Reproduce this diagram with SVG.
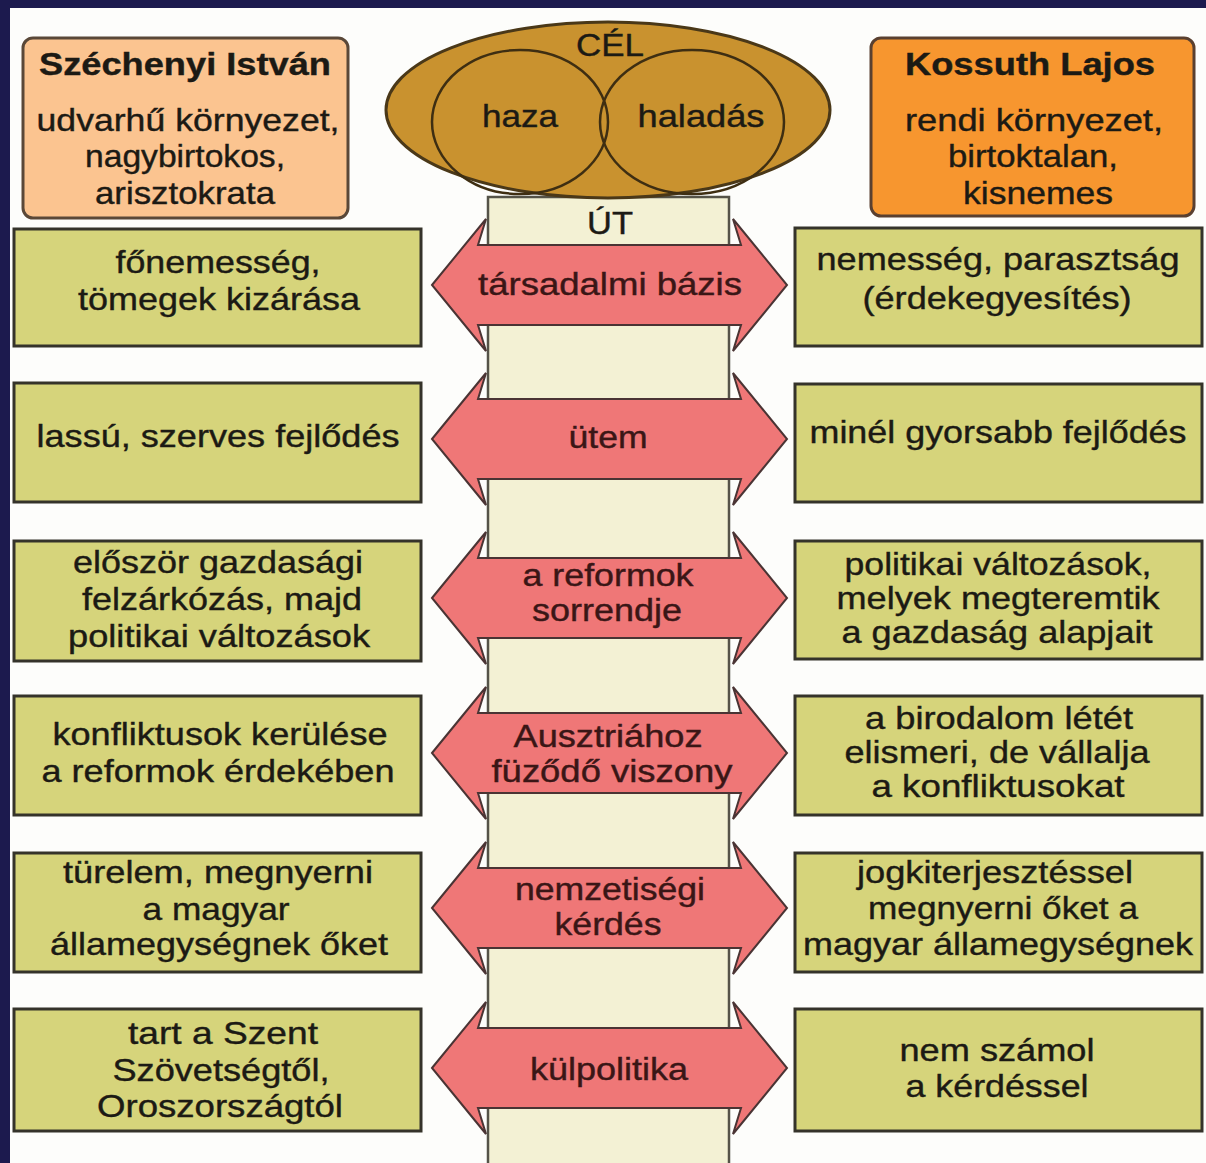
<svg xmlns="http://www.w3.org/2000/svg" width="1206" height="1163" viewBox="0 0 1206 1163">
<style>
text{font-family:"Liberation Sans",Arial,sans-serif;fill:#1c1a14;text-anchor:middle;stroke:#1c1a14;stroke-width:0.4;}
.t{font-size:32px;}
.b{font-size:32px;font-weight:bold;}
.a{font-size:31px;fill:#3a1616;stroke:#3a1616;}
.box{fill:#d6d47b;stroke:#35332a;stroke-width:3;}
.arr{fill:#ef7777;stroke:#4a3434;stroke-width:2;stroke-linejoin:miter;}
</style>
<rect x="0" y="0" width="1206" height="1163" fill="#fdfdfb"/>
<rect x="0" y="0" width="1206" height="8" fill="#1c1a4e"/>
<rect x="0" y="0" width="10" height="1163" fill="#1c1a4e"/>

<g id="szechenyi">
<rect x="23" y="38" width="325" height="180" rx="10" fill="#fbc490" stroke="#5a4838" stroke-width="3"/>
<text class="b" x="185" y="75" textLength="292" lengthAdjust="spacingAndGlyphs">Széchenyi István</text>
<text class="t" x="188" y="131" textLength="303" lengthAdjust="spacingAndGlyphs">udvarhű környezet,</text>
<text class="t" x="185" y="167" textLength="200" lengthAdjust="spacingAndGlyphs">nagybirtokos,</text>
<text class="t" x="185" y="204" textLength="180" lengthAdjust="spacingAndGlyphs">arisztokrata</text>
</g>

<g id="kossuth">
<rect x="871" y="38" width="323" height="178" rx="10" fill="#f7962f" stroke="#5a4030" stroke-width="3"/>
<text class="b" x="1030" y="75" textLength="250" lengthAdjust="spacingAndGlyphs">Kossuth Lajos</text>
<text class="t" x="1034" y="131" textLength="258" lengthAdjust="spacingAndGlyphs">rendi környezet,</text>
<text class="t" x="1033" y="167" textLength="170" lengthAdjust="spacingAndGlyphs">birtoktalan,</text>
<text class="t" x="1038" y="204" textLength="150" lengthAdjust="spacingAndGlyphs">kisnemes</text>
</g>

<g id="ut">
<rect x="488" y="197" width="241" height="970" fill="#f3f1d4" stroke="#555348" stroke-width="2.5"/>
<text class="t" x="610" y="234" textLength="46" lengthAdjust="spacingAndGlyphs">ÚT</text>
</g>

<g id="cel">
<ellipse cx="608" cy="110" rx="222" ry="88" fill="#c9922f" stroke="#4a3818" stroke-width="3"/>
<ellipse cx="520" cy="122" rx="88" ry="72" fill="none" stroke="#3e2e12" stroke-width="2.5"/>
<ellipse cx="692" cy="122" rx="92" ry="72" fill="none" stroke="#3e2e12" stroke-width="2.5"/>
<text class="t" x="610" y="56" textLength="68" lengthAdjust="spacingAndGlyphs">CÉL</text>
<text class="t" x="520" y="127" textLength="76" lengthAdjust="spacingAndGlyphs">haza</text>
<text class="t" x="701" y="127" textLength="127" lengthAdjust="spacingAndGlyphs">haladás</text>
</g>

<g id="connectors">
<path class="arr" d="M432,285 L486,219 L478,245 L741,245 L733,219 L787,285 L733,351 L741,325 L478,325 L486,351 Z"/>
<path class="arr" d="M432,439 L486,373 L478,399 L741,399 L733,373 L787,439 L733,505 L741,479 L478,479 L486,505 Z"/>
<path class="arr" d="M432,598 L486,532 L478,558 L741,558 L733,532 L787,598 L733,664 L741,638 L478,638 L486,664 Z"/>
<path class="arr" d="M432,753 L486,687 L478,713 L741,713 L733,687 L787,753 L733,819 L741,793 L478,793 L486,819 Z"/>
<path class="arr" d="M432,908 L486,842 L478,868 L741,868 L733,842 L787,908 L733,974 L741,948 L478,948 L486,974 Z"/>
<path class="arr" d="M432,1068 L486,1002 L478,1028 L741,1028 L733,1002 L787,1068 L733,1134 L741,1108 L478,1108 L486,1134 Z"/>
</g>

<g id="arrow-labels">
<text class="a" x="610" y="295" textLength="264" lengthAdjust="spacingAndGlyphs">társadalmi bázis</text>
<text class="a" x="608" y="448" textLength="79" lengthAdjust="spacingAndGlyphs">ütem</text>
<text class="a" x="608" y="586" textLength="171" lengthAdjust="spacingAndGlyphs">a reformok</text>
<text class="a" x="607" y="621" textLength="150" lengthAdjust="spacingAndGlyphs">sorrendje</text>
<text class="a" x="608" y="747" textLength="189" lengthAdjust="spacingAndGlyphs">Ausztriához</text>
<text class="a" x="612" y="782" textLength="241" lengthAdjust="spacingAndGlyphs">füződő viszony</text>
<text class="a" x="610" y="900" textLength="190" lengthAdjust="spacingAndGlyphs">nemzetiségi</text>
<text class="a" x="608" y="935" textLength="107" lengthAdjust="spacingAndGlyphs">kérdés</text>
<text class="a" x="609" y="1080" textLength="158" lengthAdjust="spacingAndGlyphs">külpolitika</text>
</g>

<g id="left-1">
<rect class="box" x="14" y="229" width="407" height="117"/>
<text class="t" x="218" y="273" textLength="205" lengthAdjust="spacingAndGlyphs">főnemesség,</text>
<text class="t" x="219" y="310" textLength="282" lengthAdjust="spacingAndGlyphs">tömegek kizárása</text>
</g>
<g id="left-2">
<rect class="box" x="14" y="383" width="407" height="119"/>
<text class="t" x="218" y="447" textLength="363" lengthAdjust="spacingAndGlyphs">lassú, szerves fejlődés</text>
</g>
<g id="left-3">
<rect class="box" x="14" y="541" width="407" height="120"/>
<text class="t" x="218" y="573" textLength="290" lengthAdjust="spacingAndGlyphs">először gazdasági</text>
<text class="t" x="222" y="610" textLength="280" lengthAdjust="spacingAndGlyphs">felzárkózás, majd</text>
<text class="t" x="219" y="647" textLength="302" lengthAdjust="spacingAndGlyphs">politikai változások</text>
</g>
<g id="left-4">
<rect class="box" x="14" y="696" width="407" height="119"/>
<text class="t" x="220" y="745" textLength="335" lengthAdjust="spacingAndGlyphs">konfliktusok kerülése</text>
<text class="t" x="218" y="782" textLength="353" lengthAdjust="spacingAndGlyphs">a reformok érdekében</text>
</g>
<g id="left-5">
<rect class="box" x="14" y="853" width="407" height="119"/>
<text class="t" x="218" y="883" textLength="310" lengthAdjust="spacingAndGlyphs">türelem, megnyerni</text>
<text class="t" x="216" y="920" textLength="147" lengthAdjust="spacingAndGlyphs">a magyar</text>
<text class="t" x="219" y="955" textLength="338" lengthAdjust="spacingAndGlyphs">államegységnek őket</text>
</g>
<g id="left-6">
<rect class="box" x="14" y="1009" width="407" height="122"/>
<text class="t" x="223" y="1044" textLength="190" lengthAdjust="spacingAndGlyphs">tart a Szent</text>
<text class="t" x="221" y="1081" textLength="217" lengthAdjust="spacingAndGlyphs">Szövetségtől,</text>
<text class="t" x="220" y="1117" textLength="246" lengthAdjust="spacingAndGlyphs">Oroszországtól</text>
</g>

<g id="right-1">
<rect class="box" x="795" y="228" width="407" height="118"/>
<text class="t" x="998" y="270" textLength="363" lengthAdjust="spacingAndGlyphs">nemesség, parasztság</text>
<text class="t" x="997" y="309" textLength="269" lengthAdjust="spacingAndGlyphs">(érdekegyesítés)</text>
</g>
<g id="right-2">
<rect class="box" x="795" y="384" width="407" height="118"/>
<text class="t" x="998" y="443" textLength="377" lengthAdjust="spacingAndGlyphs">minél gyorsabb fejlődés</text>
</g>
<g id="right-3">
<rect class="box" x="795" y="541" width="407" height="118"/>
<text class="t" x="998" y="575" textLength="307" lengthAdjust="spacingAndGlyphs">politikai változások,</text>
<text class="t" x="998" y="609" textLength="323" lengthAdjust="spacingAndGlyphs">melyek megteremtik</text>
<text class="t" x="997" y="643" textLength="311" lengthAdjust="spacingAndGlyphs">a gazdaság alapjait</text>
</g>
<g id="right-4">
<rect class="box" x="795" y="696" width="407" height="119"/>
<text class="t" x="999" y="729" textLength="268" lengthAdjust="spacingAndGlyphs">a birodalom létét</text>
<text class="t" x="997" y="763" textLength="305" lengthAdjust="spacingAndGlyphs">elismeri, de vállalja</text>
<text class="t" x="998" y="797" textLength="253" lengthAdjust="spacingAndGlyphs">a konfliktusokat</text>
</g>
<g id="right-5">
<rect class="box" x="795" y="853" width="407" height="119"/>
<text class="t" x="995" y="883" textLength="276" lengthAdjust="spacingAndGlyphs">jogkiterjesztéssel</text>
<text class="t" x="1003" y="919" textLength="270" lengthAdjust="spacingAndGlyphs">megnyerni őket a</text>
<text class="t" x="998" y="955" textLength="390" lengthAdjust="spacingAndGlyphs">magyar államegységnek</text>
</g>
<g id="right-6">
<rect class="box" x="795" y="1009" width="407" height="122"/>
<text class="t" x="997" y="1061" textLength="195" lengthAdjust="spacingAndGlyphs">nem számol</text>
<text class="t" x="997" y="1097" textLength="183" lengthAdjust="spacingAndGlyphs">a kérdéssel</text>
</g>
</svg>
